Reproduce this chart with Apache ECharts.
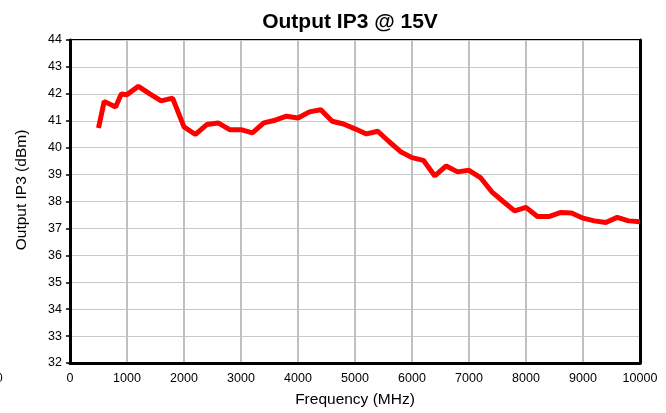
<!DOCTYPE html>
<html>
<head>
<meta charset="utf-8">
<script src="https://cdn.jsdelivr.net/npm/echarts@6/dist/echarts.min.js"></script>
<style>
  html, body { margin: 0; padding: 0; background: #fff; }
  #chart { width: 666px; height: 413px; }
</style>
</head>
<body>
<div id="chart"></div>
<script>
// frequency points (MHz) and measured output IP3 (dBm)
var freqs = [500, 600, 800, 900, 1000, 1200, 1400, 1600, 1800, 2000, 2200, 2400, 2600, 2800, 3000,
  3200, 3400, 3600, 3800, 4000, 4200, 4400, 4600, 4800, 5000, 5200, 5400, 5600, 5800, 6000,
  6200, 6400, 6600, 6800, 7000, 7200, 7400, 7600, 7800, 8000, 8200, 8400, 8600, 8800, 9000,
  9200, 9400, 9600, 9800, 10000];
var ip3 = [40.73, 41.72, 41.51, 41.99, 41.97, 42.28, 42.0, 41.74, 41.84, 40.77, 40.49, 40.86, 40.92, 40.67, 40.67,
  40.55, 40.92, 41.02, 41.17, 41.1, 41.33, 41.41, 40.98, 40.88, 40.7, 40.51, 40.61, 40.22, 39.85, 39.63,
  39.53, 38.95, 39.32, 39.1, 39.16, 38.89, 38.36, 38.0, 37.65, 37.78, 37.44, 37.44, 37.59, 37.57, 37.38,
  37.28, 37.22, 37.41, 37.28, 37.25];

var chart = echarts.init(document.getElementById('chart'));
var font = 'Liberation Sans, Arial';
var lbl = { color: '#000', fontFamily: font, fontSize: 12.5 };

chart.setOption({
  animation: false,
  title: {
    text: 'Output IP3 @ 15V',
    left: 345, top: 7, textAlign: 'center',
    textStyle: { fontFamily: font, fontSize: 21, fontWeight: 'bold', color: '#000' }
  },
  grid: { left: 70, right: 26, top: 40, bottom: 48, show: true, borderColor: '#000', borderWidth: 2 },
  xAxis: {
    type: 'value', min: 0, max: 10000, interval: 1000,
    name: 'Frequency (MHz)', nameLocation: 'middle', nameGap: 29,
    nameTextStyle: { color: '#000', fontFamily: font, fontSize: 15.5 },
    axisLine: { show: true, lineStyle: { color: '#000', width: 3 } },
    axisTick: { show: false },
    axisLabel: Object.assign({ margin: 9, formatter: function (v) { return String(v); } }, lbl),
    splitLine: { show: true, lineStyle: { color: '#c0c0c0', width: 2 } }
  },
  yAxis: [{
    type: 'value', min: 32, max: 44, interval: 1,
    axisLine: { show: true, lineStyle: { color: '#000', width: 3 } },
    axisTick: { show: true, length: 4, lineStyle: { color: '#000', width: 1.5 } },
    axisLabel: Object.assign({ margin: 8 }, lbl),
    splitLine: { show: true, lineStyle: { color: '#c8c8c8', width: 1 } }
  }, {
    // right-hand frame edge, drawn heavier like the left axis
    type: 'value', min: 32, max: 44, interval: 1, position: 'right',
    axisLine: { show: true, lineStyle: { color: '#000', width: 3 } },
    axisTick: { show: false }, axisLabel: { show: false }, splitLine: { show: false }
  }],
  graphic: [{
    type: 'text', x: 21.5, y: 190, rotation: Math.PI / 2,
    style: { text: 'Output IP3 (dBm)', fill: '#000', font: '15.5px Liberation Sans, Arial',
      textAlign: 'center', textVerticalAlign: 'middle' }
  }, {
    type: 'text', left: -4, top: 373,
    style: { text: '0', fill: '#000', font: '12px Liberation Sans, Arial' }
  }],
  series: [{
    type: 'line',
    data: freqs.map(function (f, i) { return [f, ip3[i]]; }),
    showSymbol: false,
    lineStyle: { color: '#ff0000', width: 5 },
    itemStyle: { color: '#ff0000' }
  }]
});
</script>
</body>
</html>
